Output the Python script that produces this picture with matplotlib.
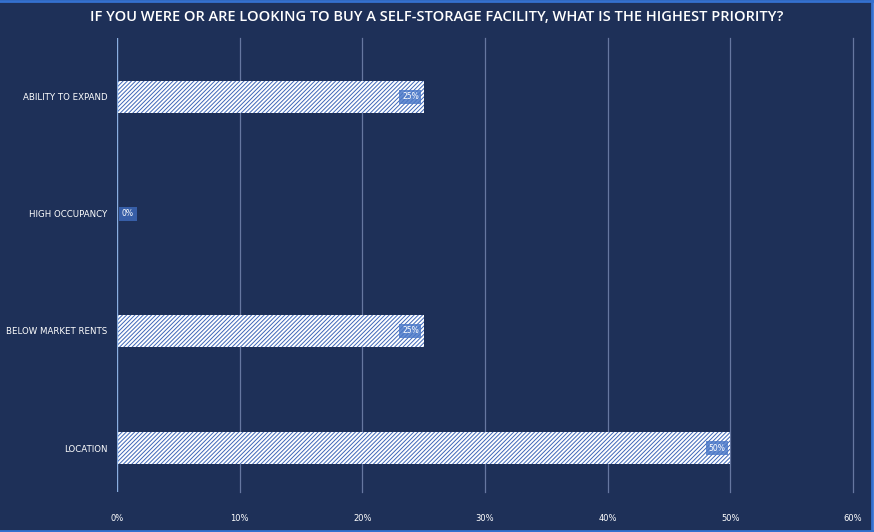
import matplotlib
matplotlib.use("Agg")
import matplotlib.pyplot as plt
from matplotlib.patches import Rectangle
from matplotlib.lines import Line2D

# Data
categories = ["LOCATION", "BELOW MARKET RENTS", "HIGH OCCUPANCY", "ABILITY TO EXPAND"]
values = [0.50, 0.25, 0.0, 0.25]
value_labels = ["50%", "25%", "0%", "25%"]
xticks = [0, 0.1, 0.2, 0.3, 0.4, 0.5, 0.6]
xtick_labels = ["0%", "10%", "20%", "30%", "40%", "50%", "60%"]
title = "IF YOU WERE OR ARE LOOKING TO BUY A SELF-STORAGE FACILITY, WHAT IS THE HIGHEST PRIORITY?"

navy = "#1E3058"
hatch_blue = "#3D66B8"
plt.rcParams['hatch.linewidth'] = 0.7

fig = plt.figure(figsize=(8.74, 5.32), dpi=100, facecolor=navy)
ax = fig.add_axes([117/874, 40/532, 736/874, 454/532])
ax.set_facecolor(navy)

ypos = list(range(len(categories)))
ax.barh(ypos, values, height=0.273, color="white", edgecolor=hatch_blue,
        linewidth=0, hatch="////////", zorder=3)

for y, v, lab in zip(ypos, values, value_labels):
    if v > 0:
        ax.annotate(lab, xy=(v, y), xytext=(-3.5, 0), textcoords="offset points",
                    ha="right", va="center", color="white", fontsize=5.5,
                    family="DejaVu Sans", zorder=5,
                    bbox=dict(boxstyle="square,pad=0.35", fc="#4A78C8", ec="none", alpha=0.85))
    else:
        ax.annotate(lab, xy=(v, y), xytext=(3.5, 0), textcoords="offset points",
                    ha="left", va="center", color="white", fontsize=5.5,
                    family="DejaVu Sans", zorder=5,
                    bbox=dict(boxstyle="square,pad=0.35", fc="#3A64B0", ec="none", alpha=0.9))

ax.set_xlim(0, 0.6)
ax.set_ylim(-0.376, 3.504)
ax.set_xticks(xticks)
ax.set_xticklabels(xtick_labels, color="white", fontsize=6, family="DejaVu Sans")
ax.set_yticks(ypos)
ax.set_yticklabels(categories, color="white", fontsize=6.2, family="DejaVu Sans")
ax.tick_params(axis="both", length=0)
ax.tick_params(axis="x", pad=16)
ax.tick_params(axis="y", pad=7)

for x in xticks[1:]:
    ax.axvline(x, color="#6677A0", linewidth=0.9, zorder=1, clip_on=False)
ax.axvline(0, color="#8AAEE0", linewidth=1.0, zorder=4)

for s in ax.spines.values():
    s.set_visible(False)

fig.text(0.5, 1 - 17/532, title, ha="center", va="center", color="white",
         fontsize=10.5, family="Open Sans", fontweight="semibold")

# figure border
bc = "#3470D0"
fig.add_artist(Line2D([0, 1], [1 - 1/532, 1 - 1/532], color=bc, linewidth=2, transform=fig.transFigure))
fig.add_artist(Line2D([871.5/874, 871.5/874], [0, 1], color=bc, linewidth=2, transform=fig.transFigure))
fig.add_artist(Line2D([0, 872/874], [1.5/532, 1.5/532], color=bc, linewidth=2, transform=fig.transFigure))
fig.add_artist(Rectangle((872.5/874, 0), 2/874, 1, transform=fig.transFigure, color="white"))

fig.savefig("out.png", dpi=100, facecolor=navy)
